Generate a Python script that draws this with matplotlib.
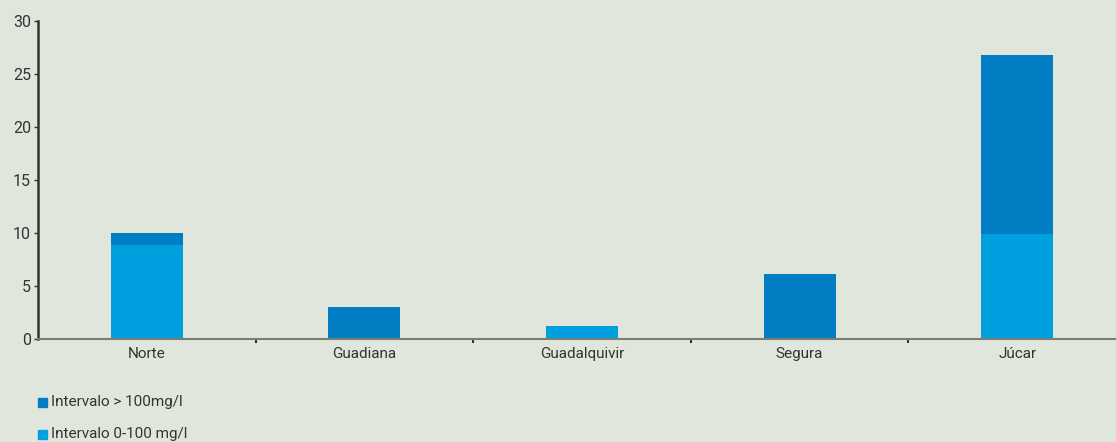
import matplotlib.pyplot as plt
import numpy as np
from matplotlib.patches import Rectangle

plt.rcParams["font.family"] = ["Roboto", "DejaVu Sans"]

categories = ["Norte", "Guadiana", "Guadalquivir", "Segura", "Júcar"]
low_range = [8.9, 0.0, 1.2, 0.0, 9.9]      # Intervalo 0-100 mg/l
high_range = [1.1, 3.0, 0.0, 6.1, 16.9]    # Intervalo > 100mg/l

BG = "#e1e6dc"
LIGHT = "#009fdf"
DARK = "#007dc3"
TEXT = "#333333"

W, H = 1116, 442
fig = plt.figure(figsize=(W / 100, H / 100), dpi=100, facecolor=BG)
# plot area runs a little past the right edge of the picture
ax = fig.add_axes([38 / W, (H - 339) / H, 1088 / W, (339 - 21) / H])
ax.set_facecolor(BG)

x = np.arange(len(categories))
ax.bar(x, low_range, width=0.33, color=LIGHT, zorder=2)
ax.bar(x, high_range, width=0.33, bottom=low_range, color=DARK, zorder=2)

ax.set_xlim(-0.5, len(categories) - 0.5)
ax.set_ylim(0, 30)
ax.set_yticks(range(0, 31, 5))
ax.tick_params(axis="y", length=3, width=1, color=TEXT, labelcolor=TEXT,
               labelsize=11.5, pad=2)

ax.set_xticks(x)
ax.set_xticklabels(categories)
ax.tick_params(axis="x", length=0, labelcolor=TEXT, labelsize=11, pad=6)
ax.set_xticks(x[:-1] + 0.5, minor=True)
ax.tick_params(axis="x", which="minor", length=3, width=1.5, color=TEXT)

for side in ["top", "right"]:
    ax.spines[side].set_visible(False)
ax.spines["left"].set_color(TEXT)
ax.spines["left"].set_linewidth(1.8)
ax.spines["bottom"].set_color("#7a7f76")
ax.spines["bottom"].set_linewidth(1.5)

# legend entries at the bottom left
legend = [("Intervalo > 100mg/l", DARK, 402), ("Intervalo 0-100 mg/l", LIGHT, 434)]
for label, col, yp in legend:
    fig.patches.append(Rectangle((38 / W, (H - yp - 5) / H), 9 / W, 9 / H,
                                 transform=fig.transFigure, color=col))
    fig.text(51 / W, (H - yp) / H, label, fontsize=11, color=TEXT, va="center")

fig.savefig("out.png", dpi=100, facecolor=BG)
